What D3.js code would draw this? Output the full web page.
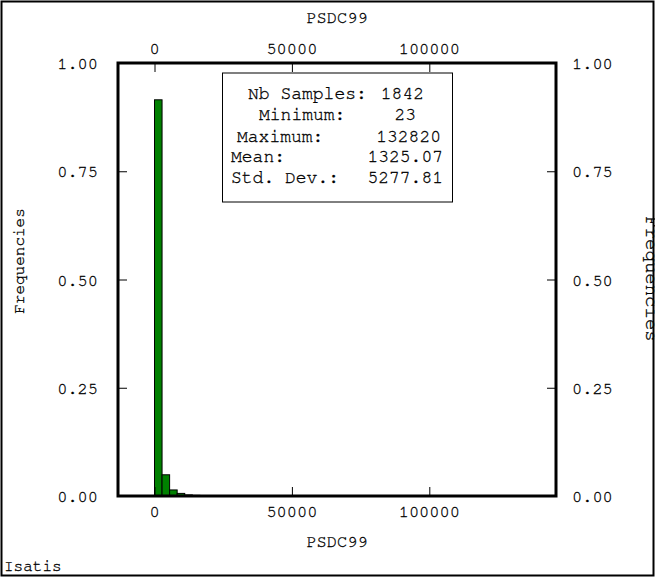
<!DOCTYPE html>
<html>
<head>
<meta charset="utf-8">
<script src="https://cdn.jsdelivr.net/npm/d3@7"></script>
<style>
  html, body { margin: 0; padding: 0; background: #fff; }
  svg { display: block; }
  text { font-family: "Nimbus Mono PS", "Nimbus Mono L", "FreeMono", "Courier New", Courier, "Liberation Mono", monospace; fill: #000; stroke: #000; stroke-width: 0.3px; }
</style>
</head>
<body>
<svg id="chart" width="655" height="577"></svg>
<script>
// Histogram of PSDC99: class start values and relative frequencies
const binWidth = 2750;
const binStarts = [0, 2750, 5500, 8250, 11000, 13750, 16500, 19250];
const frequencies = [0.915, 0.049, 0.014, 0.006, 0.0025, 0.0015, 0.001, 0.001];

// Axis ticks
const xTicks = [0, 50000, 100000];
const yTicks = [0, 0.25, 0.5, 0.75, 1.0];

// Summary statistics box
const statLabels = ["Nb Samples:", "Minimum:", "Maximum:", "Mean:", "Std. Dev.:"];
const statValues = ["1842", "23", "132820", "1325.07", "5277.81"];

const variableName = "PSDC99";
const yTitle = "Frequencies";

const svg = d3.select("#chart");
const W = 655, H = 577;
const plot = { left: 118, right: 556, top: 63, bottom: 496 };

const x = d3.scaleLinear().domain([-13282, 146102]).range([plot.left, plot.right]);
const y = d3.scaleLinear().domain([0, 1]).range([plot.bottom, plot.top]);

// Outer page frame
svg.append("rect")
  .attr("x", 1.5).attr("y", 1.5).attr("width", W - 3).attr("height", H - 3)
  .attr("fill", "none").attr("stroke", "#000").attr("stroke-width", 2);

// Bars
svg.append("g").selectAll("rect")
  .data(binStarts.map((s, i) => ({ x0: s, x1: s + binWidth, f: frequencies[i] })))
  .join("rect")
  .attr("x", d => x(d.x0))
  .attr("width", d => x(d.x1) - x(d.x0))
  .attr("y", d => y(d.f))
  .attr("height", d => y(0) - y(d.f))
  .attr("fill", "#008000")
  .attr("stroke", "#000")
  .attr("stroke-width", 1);

// Axes with inward ticks, labels drawn separately
const tickLen = 9;
const fmtY = d3.format(".2f");

const axTop = svg.append("g").attr("transform", `translate(0,${plot.top})`)
  .call(d3.axisBottom(x).tickValues(xTicks).tickSize(tickLen).tickFormat(""));
const axBottom = svg.append("g").attr("transform", `translate(0,${plot.bottom})`)
  .call(d3.axisTop(x).tickValues(xTicks).tickSize(tickLen).tickFormat(""));
const axLeft = svg.append("g").attr("transform", `translate(${plot.left},0)`)
  .call(d3.axisRight(y).tickValues(yTicks).tickSize(tickLen).tickFormat(""));
const axRight = svg.append("g").attr("transform", `translate(${plot.right},0)`)
  .call(d3.axisLeft(y).tickValues(yTicks).tickSize(tickLen).tickFormat(""));
[axTop, axBottom, axLeft, axRight].forEach(g => {
  g.select(".domain").remove();
  g.selectAll("line").attr("stroke", "#000").attr("stroke-width", 1);
});

// Plot frame
svg.append("rect")
  .attr("x", plot.left).attr("y", plot.top)
  .attr("width", plot.right - plot.left).attr("height", plot.bottom - plot.top)
  .attr("fill", "none").attr("stroke", "#000").attr("stroke-width", 3);

// Tick labels
const fs = 17;
svg.append("g").selectAll("text").data(xTicks).join("text")
  .attr("x", d => x(d)).attr("y", 54).attr("text-anchor", "middle")
  .style("font-size", fs + "px").text(d => d);
svg.append("g").selectAll("text").data(xTicks).join("text")
  .attr("x", d => x(d)).attr("y", 517).attr("text-anchor", "middle")
  .style("font-size", fs + "px").text(d => d);
svg.append("g").selectAll("text").data(yTicks).join("text")
  .attr("x", 98).attr("y", d => y(d) + 6).attr("text-anchor", "end")
  .style("font-size", fs + "px").text(d => fmtY(d));
svg.append("g").selectAll("text").data(yTicks).join("text")
  .attr("x", 572).attr("y", d => y(d) + 6).attr("text-anchor", "start")
  .style("font-size", fs + "px").text(d => fmtY(d));

// Titles
svg.append("text").attr("x", (plot.left + plot.right) / 2).attr("y", 23)
  .attr("text-anchor", "middle").style("font-size", fs + "px").text(variableName);
svg.append("text").attr("x", (plot.left + plot.right) / 2).attr("y", 547)
  .attr("text-anchor", "middle").style("font-size", fs + "px").text(variableName);
svg.append("text").attr("transform", "translate(24,261) rotate(-90)")
  .attr("text-anchor", "middle").style("font-size", "16px").text(yTitle);
svg.append("text").attr("transform", "translate(646,279) rotate(90)")
  .attr("text-anchor", "middle").style("font-size", "19px").text(yTitle);
svg.append("text").attr("x", 4).attr("y", 571).style("font-size", "16px").text("Isatis");

// Statistics box
const box = { x: 222.5, y: 73, w: 230, h: 129 };
svg.append("rect")
  .attr("x", box.x).attr("y", box.y).attr("width", box.w).attr("height", box.h)
  .attr("fill", "#fff").attr("stroke", "#000").attr("stroke-width", 1);
const labelX = [248, 259, 237, 231, 231];
const valueEnd = [424, 416, 441, 443, 443];
const lineY = [99, 120, 141.5, 162, 183];
const sfs = 18;
svg.append("g").selectAll("text").data(statLabels).join("text")
  .attr("x", (d, i) => labelX[i]).attr("y", (d, i) => lineY[i])
  .style("font-size", sfs + "px").text(d => d);
svg.append("g").selectAll("text").data(statValues).join("text")
  .attr("x", (d, i) => valueEnd[i]).attr("y", (d, i) => lineY[i])
  .attr("text-anchor", "end").style("font-size", sfs + "px").text(d => d);
</script>
</body>
</html>
